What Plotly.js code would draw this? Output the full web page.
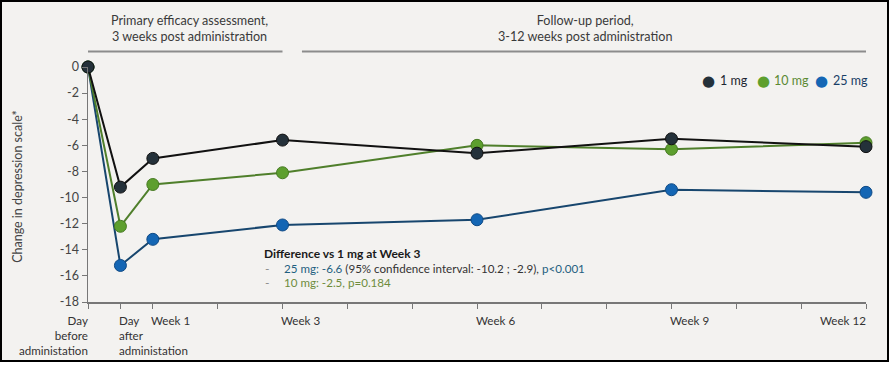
<!DOCTYPE html>
<html>
<head>
<meta charset="utf-8">
<script src="https://cdn.plot.ly/plotly-3.0.1.min.js"></script>
<style>
  body { margin:0; background:#ffffff; }
  #frame { position:absolute; left:0; top:0; width:885px; height:358px; border:2px solid #000; background:#f3f2f0; }
  #chart { position:absolute; left:0; top:0; width:893px; height:365px; }
</style>
</head>
<body>
<div id="frame"></div>
<div id="chart"></div>
<script>
// ---- data ----
const timeX = [0, 0.5, 1, 3, 6, 9, 12];
const seriesNames = ['25 mg', '10 mg', '1 mg'];
const values25mg = [0, -15.2, -13.2, -12.1, -11.7, -9.4, -9.6];
const values10mg = [0, -12.2, -9.0, -8.1, -6.0, -6.3, -5.8];
const values1mg  = [0, -9.2, -7.0, -5.6, -6.6, -5.5, -6.1];

const xTickVals = [0, 0.5, 1, 2, 3, 4, 5, 6, 7, 8, 9, 10, 11, 12];
const xLabelVals = [0, 0.5, 1, 3, 6, 9, 12];
const xLabelText = ['Day<br>before<br>administation', 'Day<br>after<br>administation', 'Week 1', 'Week 3', 'Week 6', 'Week 9', 'Week 12'];
const xLabelAnchor = ['right', 'left', 'left', 'left', 'left', 'left', 'right'];

const yTickVals = [0, -2, -4, -6, -8, -10, -12, -14, -16, -18];
const yTickText = ['0', '-2', '-4', '-6', '-8', '-10', '-12', '-14', '-16', '-18'];
const yTitle = 'Change in depression scale*';

const periodText = ['Primary efficacy assessment,<br>3 weeks post administration', 'Follow-up period,<br>3-12 weeks post administration'];
const periodStart = [-0.03, 3.3];
const periodEnd = [3.0, 12.0];
const periodCenter = [1.56, 7.66];

const noteTitle = 'Difference vs 1 mg at Week 3';
const noteLines = [
  '<span style="color:#1f5f80">25 mg: -6.6</span> (95% confidence interval: -10.2 ; -2.9), <span style="color:#1f5f80">p&lt;0.001</span>',
  '<span style="color:#6e8c3c">10 mg: -2.5, p=0.184</span>'
];

// ---- styles ----
const FONT = 'Lato, "Open Sans", sans-serif';
const lineColors = { '25 mg': '#17466e', '10 mg': '#4f7f2b', '1 mg': '#111111' };
const markerColors = { '25 mg': '#1466b4', '10 mg': '#5d9f2e', '1 mg': '#24313a' };
const markerLines = { '25 mg': '#0f4a85', '10 mg': '#467a22', '1 mg': '#111111' };
const legendTextColors = { '1 mg': '#1c2630', '10 mg': '#5b8a34', '25 mg': '#173d66' };
const legendOrder = ['1 mg', '10 mg', '25 mg'];
const seriesVals = { '25 mg': values25mg, '10 mg': values10mg, '1 mg': values1mg };

// pixel helpers for plot area (x 88..866, y 67..302)
const L = 88, R = 866, T = 67, B = 302;
const px = v => (v - L) / (R - L);
const py = v => (B - v) / (B - T);

const traces = seriesNames.map(n => ({
  x: timeX, y: seriesVals[n], name: n, type: 'scatter', mode: 'lines+markers',
  line: { color: lineColors[n], width: 2 },
  marker: { color: markerColors[n], size: 12, line: { color: markerLines[n], width: 1 } },
  cliponaxis: false, showlegend: false, hoverinfo: 'x+y+name'
}));

const annotations = [];
const shapes = [];

// x tick labels (custom alignment per label)
xLabelVals.forEach((v, i) => {
  annotations.push({
    x: v, xref: 'x', y: py(313), yref: 'paper', text: xLabelText[i], showarrow: false,
    xanchor: xLabelAnchor[i], yanchor: 'top', align: xLabelAnchor[i],
    xshift: xLabelAnchor[i] === 'right' ? 1 : -2.5, borderpad: 0,
    font: { family: FONT, size: 11.6, color: '#333' }
  });
});

// period headers
periodText.forEach((t, i) => {
  annotations.push({
    x: periodCenter[i], xref: 'x', y: py(28), yref: 'paper', text: t, showarrow: false,
    xanchor: 'center', yanchor: 'middle', borderpad: 0, font: { family: FONT, size: 12.6, color: '#3a3a3a' }
  });
  shapes.push({ type: 'line', xref: 'x', yref: 'paper', x0: periodStart[i], x1: periodEnd[i],
    y0: py(51.5), y1: py(51.5), line: { color: '#8c8c8c', width: 2 } });
});

// y title
annotations.push({
  x: 0, xref: 'paper', y: 0.49, yref: 'paper', text: yTitle, textangle: -90, showarrow: false,
  xanchor: 'center', yanchor: 'middle', xshift: -70, font: { family: FONT, size: 12.5, color: '#444' }
});

// note block
annotations.push({
  x: px(262), xref: 'paper', y: py(253.5), yref: 'paper', text: '<b>' + noteTitle + '</b>', showarrow: false,
  xanchor: 'left', yanchor: 'middle', font: { family: FONT, size: 12, color: '#1a1a1a' }
});
noteLines.forEach((t, j) => {
  annotations.push({
    x: px(263), xref: 'paper', y: py(268 + j * 14.5), yref: 'paper', text: '-', showarrow: false,
    xanchor: 'left', yanchor: 'middle', font: { family: FONT, size: 12, color: '#8a8a8a' }
  });
  annotations.push({
    x: px(282), xref: 'paper', y: py(268 + j * 14.5), yref: 'paper', text: t, showarrow: false,
    xanchor: 'left', yanchor: 'middle', font: { family: FONT, size: 11.6, color: '#333' }
  });
});

// legend (manual)
const legendMarkX = [708, 763, 821];
const legendTextX = [718, 772, 831];
legendOrder.forEach((n, i) => {
  annotations.push({
    x: px(legendMarkX[i]), xref: 'paper', y: py(80.5), yref: 'paper', text: '●', showarrow: false,
    xanchor: 'center', yanchor: 'middle', font: { family: 'DejaVu Sans', size: 15, color: markerColors[n] }
  });
  annotations.push({
    x: px(legendTextX[i]), xref: 'paper', y: py(80.5), yref: 'paper', text: n, showarrow: false,
    xanchor: 'left', yanchor: 'middle', font: { family: FONT, size: 12.5, color: legendTextColors[n] }
  });
});

const layout = {
  width: 893, height: 365,
  margin: { l: L, r: 893 - R, t: T, b: 365 - B, pad: 0 },
  paper_bgcolor: 'rgba(0,0,0,0)', plot_bgcolor: 'rgba(0,0,0,0)',
  font: { family: FONT, size: 12.5, color: '#444' },
  showlegend: false,
  xaxis: {
    range: [0, 12], tickvals: xTickVals, ticktext: xTickVals.map(() => ''),
    ticks: 'outside', ticklen: 5, tickcolor: '#777', tickwidth: 1,
    showline: true, linecolor: '#777', linewidth: 1.5, showgrid: false, zeroline: false, fixedrange: true
  },
  yaxis: {
    range: [-18, 0], tickvals: yTickVals, ticktext: yTickText,
    ticks: 'outside', ticklen: 5, tickcolor: '#777', tickwidth: 1,
    showline: true, linecolor: '#777', linewidth: 1.5, showgrid: false, zeroline: false,
    tickfont: { family: FONT, size: 12.5, color: '#444' }, fixedrange: true
  },
  annotations: annotations,
  shapes: shapes
};

Plotly.newPlot('chart', traces, layout, { displayModeBar: false, staticPlot: true });
</script>
</body>
</html>
